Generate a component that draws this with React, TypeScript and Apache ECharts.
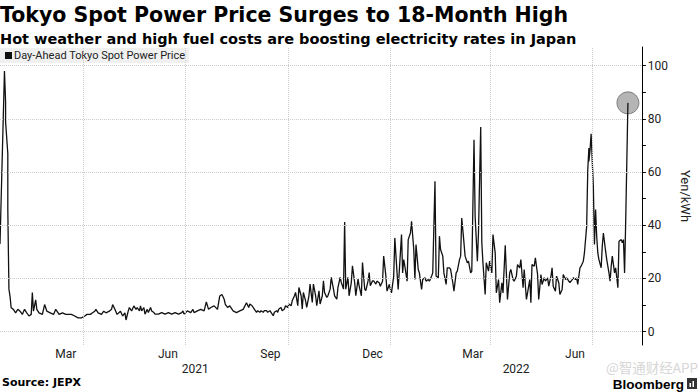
import React, { useEffect, useRef } from 'react';
import * as echarts from 'echarts';

// ---- data (day offset from 2021-01-16, Yen/kWh) ----
const START = Date.UTC(2021, 0, 16);
const DAY = 86400000;
const END_DAY = 575.5;

const seriesName = 'Day-Ahead Tokyo Spot Power Price';

const winter2021: [number, number][] = [
  [0, 33], [4, 98], [5, 86.5], [5, 79], [7, 67], [7, 46], [8, 16], [9, 13.3], [10, 9], [12, 8.4],
  [14, 7.1], [16, 8.4], [18, 7.7], [20, 6.5], [22, 8.4], [24, 7.1], [26, 5.9], [28, 6.5], [29, 14.7],
  [30, 7.7], [32, 12], [33, 8.4], [35, 7.1], [38, 6.5], [40, 10.2], [42, 7.7], [45, 7.1], [48, 6.5],
  [50, 8.4], [53, 6.5], [56, 7.1], [59, 6.5], [62, 6.5], [64, 6.5], [67, 5.9], [70, 5.2], [73, 5.2],
  [76, 5.9], [78, 6.5], [81, 6.5], [83, 7.1], [85, 7.7], [86, 8.4], [88, 7.1], [91, 6.5], [93, 7.7],
  [95, 7.1], [98, 7.7], [100, 8.4], [101, 10.2], [103, 8.4], [105, 6.5], [108, 7.7], [110, 5.9],
  [112, 7.1], [113, 4.4],
];

const summer2021: [number, number][] = [
  [115, 7.8], [116, 9.1], [118, 7.8], [120, 9.7], [122, 8.4], [123, 9.1], [125, 7.8], [126, 9.7],
  [127, 7.8], [129, 9.1], [130, 6.6], [132, 8.4], [133, 7.2], [135, 9.1], [136, 7.8], [138, 7.2],
  [139, 6.6], [142, 6.6], [145, 7.2], [148, 6.6], [151, 7.2], [154, 6.6], [157, 7.2], [160, 6.6],
  [163, 7.2], [164, 7.8], [165, 6.6], [168, 7.8], [171, 7.2], [173, 8.4], [174, 7.2], [177, 7.8],
  [180, 8.4], [183, 7.8], [185, 11.2], [187, 8.4], [189, 9.1], [192, 9.7], [195, 8.4], [197, 13.4],
  [199, 14], [201, 12.2], [202, 10.3], [204, 9.1], [206, 9.7], [209, 7.8], [212, 7.2], [215, 7.8],
  [218, 8.4], [221, 10.9], [223, 9.1], [224, 10.4], [226, 9.75], [227, 9.1], [228, 8.5], [230, 7.3],
  [231, 7.9], [233, 7.3], [234, 7.9], [236, 7.3], [237, 7.9], [239, 7.9], [240, 7.3], [242, 7.9],
  [243, 7.3], [245, 6.0], [246, 7.3], [248, 7.9], [249, 7.3], [250, 8.5], [252, 9.1], [253, 7.9],
  [255, 8.5], [256, 9.75],
];

const autumn2021: [number, number][] = [
  [258, 9.1], [259, 10.4], [261, 9.75], [262, 11.6], [264, 13.5], [265, 14.75], [267, 9.75],
  [268, 16.6], [270, 13.5], [271, 8.5], [272, 14.75], [274, 11.6], [275, 9.1], [277, 13.5],
  [278, 17.9], [280, 11], [281, 17.9], [283, 13.5], [284, 9.75], [286, 15.4], [287, 10.4],
  [289, 13.5], [290, 19.1], [291, 14.75], [293, 12.9], [294, 13.5], [296, 16], [297, 20.4],
  [299, 16], [300, 13.5], [302, 12.25], [303, 16.6], [305, 20.4], [306, 18.5], [308, 16],
  [309, 41.25], [310, 16], [312, 20.4], [313, 13.5], [315, 18.5], [316, 24.75], [318, 18.5],
  [319, 13.5], [321, 19.75], [322, 17.25], [324, 13.5], [325, 26], [327, 16], [328, 15.4],
  [330, 19.1], [331, 22.25], [332, 17.25], [334, 19.1], [335, 19.1], [337, 17.9], [338, 19],
  [340, 18.4], [341, 17.1], [343, 19], [344, 28.4], [346, 20.9], [347, 15.25], [349, 17.75],
];

const winter2022: [number, number][] = [
  [350, 15.9], [351, 14.6], [353, 20.9], [354, 35.25], [356, 22.1], [357, 15.9], [359, 29.6],
  [360, 36.5], [361, 22.1], [362, 27.1], [363, 24.6], [365, 19], [366, 34.6], [368, 37.1],
  [369, 41.5], [371, 30.9], [372, 19.6], [373, 32.75], [375, 23.4], [376, 22.1], [378, 15.9],
  [379, 19.6], [381, 20.25], [382, 19], [384, 19.6], [385, 19], [387, 20.9], [388, 22.1],
  [390, 56.5], [391, 20.9], [393, 20.25], [394, 35.9], [395, 30.9], [397, 28.4], [398, 22.1],
  [400, 17.75], [401, 24], [403, 24], [404, 23.4], [406, 18.4], [407, 15.25], [409, 22.1],
  [410, 22.75], [412, 27.1], [413, 28.4], [414, 42.75], [416, 33.4], [417, 28.4], [419, 25.9],
  [420, 26.5], [422, 22.1], [423, 22.75], [425, 72.1], [426, 43.4], [428, 26.5], [429, 37.1],
  [431, 76.9], [432, 33.4], [433, 25.9], [435, 14], [436, 25.9], [438, 22.75],
];

const spring2022: [number, number][] = [
  [439, 26.5], [441, 22.1], [442, 36.5], [444, 29.6], [445, 14.6], [447, 19.6], [448, 10.9],
  [450, 18.4], [451, 14.6], [453, 32.5], [454, 22.1], [455, 12.1], [457, 22.1], [458, 23.4],
  [460, 19.6], [461, 19], [463, 20.9], [464, 25.25], [466, 24], [467, 27.1], [469, 16.5],
  [470, 23.4], [472, 12.1], [473, 14.6], [475, 19.6], [476, 10.9], [477, 25.25], [479, 24.6],
  [480, 27.75], [482, 21.5], [483, 12.1], [485, 21.5], [486, 17.75], [488, 20.25], [489, 19],
  [491, 20.25], [492, 17.1], [494, 20.9], [495, 24], [496, 17.1], [498, 15.25], [499, 20.9],
  [501, 18.4], [502, 14], [504, 15.9], [505, 21.5], [507, 19.6], [508, 20.25], [510, 19],
  [511, 18.4], [513, 19.6], [514, 20.25], [516, 19.6], [517, 20.25], [518, 17.75],
];

const summer2022: [number, number][] = [
  [520, 24], [521, 24.6], [523, 26.5], [524, 29.6], [526, 39.6], [527, 60.9], [528, 69], [528, 64],
  [529, 68], [530, 74.4], [532, 54.6], [533, 32.75], [534, 45.9], [535, 35.9], [536, 29.6],
  [537, 27.1], [539, 24], [540, 32.1], [541, 37.1], [543, 30.25], [544, 27.1], [546, 22.1],
  [547, 19], [548, 24.6], [549, 28.4], [551, 22.1], [552, 24], [554, 16.5], [555, 34], [557, 34.6],
  [558, 33.4], [559, 34.6], [560, 22.1], [561, 41.5], [563, 86],
];

// ---- axis labels ----
const monthLabelDates = [
  '2021-03-16T00:00:00Z', '2021-06-15T12:00:00Z', '2021-09-15T12:00:00Z',
  '2021-12-16T00:00:00Z', '2022-03-16T00:00:00Z', '2022-06-15T12:00:00Z',
];
const monthLabels = ['Mar', 'Jun', 'Sep', 'Dec', 'Mar', 'Jun'];
const quarterStarts = [
  '2021-04-01T00:00:00Z', '2021-07-01T00:00:00Z', '2021-10-01T00:00:00Z',
  '2022-01-01T00:00:00Z', '2022-04-01T00:00:00Z', '2022-07-01T00:00:00Z',
];
const yearLabels = ['2021', '2022'];
const yearBreak = '2022-01-01T00:00:00Z';
const yTickValues = [0, 10, 20, 30, 40, 50, 60, 70, 80, 90, 100];
const yLabelValues = [0, 20, 40, 60, 80, 100];

const FONT = "Roboto, 'Noto Sans', sans-serif";
const BOLD_FONT = "'DejaVu Sans', sans-serif";

export default function App() {
  const ref = useRef<HTMLDivElement>(null);

  useEffect(() => {
    document.body.style.margin = '0';
    if (!ref.current) return;
    const chart = echarts.init(ref.current, null, { renderer: 'svg' });

    const all = [...winter2021, ...summer2021, ...autumn2021, ...winter2022, ...spring2022, ...summer2022];
    const data = all.map(([d, v]) => [START + d * DAY, v]);
    const last = data[data.length - 1];
    const xMin = START;
    const xMax = START + END_DAY * DAY;
    const monthTs = monthLabelDates.map((s) => Date.parse(s));
    const breakTs = Date.parse(yearBreak);
    const yearTs = [(xMin + breakTs) / 2, (breakTs + xMax) / 2];

    const option: any = {
      animation: false,
      textStyle: { fontFamily: FONT },
      title: [
        {
          text: 'Tokyo Spot Power Price Surges to 18-Month High',
          left: 0, top: 4, padding: 0,
          textStyle: { fontFamily: BOLD_FONT, fontWeight: 'bold', fontSize: 20.5, color: '#000' },
        },
        {
          text: 'Hot weather and high fuel costs are boosting electricity rates in Japan',
          left: 0, top: 31, padding: 0,
          textStyle: { fontFamily: BOLD_FONT, fontWeight: 'bold', fontSize: 14.5, color: '#000' },
        },
        {
          text: 'Source: JEPX',
          left: 2, top: 377, padding: 0,
          textStyle: { fontFamily: BOLD_FONT, fontWeight: 'bold', fontSize: 11, color: '#000' },
        },
      ],
      legend: {
        data: [seriesName],
        left: 0, top: 48,
        padding: [2, 4, 2, 5],
        backgroundColor: '#f0f0f0',
        icon: 'rect',
        itemWidth: 7, itemHeight: 7, itemGap: 4,
        textStyle: { fontFamily: FONT, fontSize: 11, color: '#222', padding: [0, 0, 0, -3] },
      },
      grid: { left: 0, right: 45, top: 47, bottom: 47 },
      xAxis: [
        {
          type: 'value', min: xMin, max: xMax,
          axisLine: { show: false }, axisTick: { show: false }, splitLine: { show: false },
          axisLabel: {
            customValues: monthTs,
            formatter: (v: number) => {
              const i = monthTs.findIndex((t) => Math.abs(t - v) < DAY);
              return i >= 0 ? monthLabels[i] : '';
            },
            margin: 3, color: '#222', fontSize: 12, fontFamily: FONT,
          },
        },
        {
          type: 'value', min: xMin, max: xMax, position: 'bottom', offset: 15,
          axisLine: { show: false }, axisTick: { show: false }, splitLine: { show: false },
          axisLabel: {
            customValues: yearTs,
            formatter: (v: number) => {
              const i = yearTs.findIndex((t) => Math.abs(t - v) < DAY);
              return i >= 0 ? yearLabels[i] : '';
            },
            margin: 3, color: '#222', fontSize: 12, fontFamily: FONT,
          },
        },
      ],
      yAxis: {
        type: 'value', position: 'right', min: -5, max: 107,
        name: 'Yen/kWh', nameLocation: 'middle', nameRotate: -90, nameGap: 31,
        nameTextStyle: { fontFamily: FONT, fontSize: 13, color: '#222' },
        axisLine: { show: true, lineStyle: { color: '#000', width: 1 } },
        axisTick: { show: true, customValues: yTickValues, length: 4, lineStyle: { color: '#000' } },
        axisLabel: { customValues: yLabelValues, margin: 6, color: '#222', fontSize: 12, fontFamily: FONT },
        splitLine: { show: false },
      },
      series: [
        {
          type: 'scatter', data: [last], symbolSize: 22, silent: true, z: 1,
          itemStyle: { color: '#a3a3a3', borderColor: '#6a6a6a', borderWidth: 1 },
        },
        {
          type: 'line', name: seriesName, data, showSymbol: false, symbol: 'none', z: 2,
          lineStyle: { color: '#111', width: 1.3 },
          itemStyle: { color: '#111' },
          markLine: {
            silent: true, symbol: ['none', 'none'], label: { show: false },
            lineStyle: { color: '#cccccc', type: 'dotted', width: 1 },
            emphasis: { disabled: true },
            data: [
              ...yLabelValues.map((v) => ({ yAxis: v })),
              ...quarterStarts.map((s) => ({ xAxis: Date.parse(s) })),
            ],
          },
        },
      ],
      graphic: [
        {
          type: 'text', right: 2, top: 360, silent: true,
          style: { text: '@智通财经APP', fill: '#d6d6d6', font: "13.5px 'Noto Sans CJK SC', sans-serif" },
        },
        {
          type: 'text', right: 16, top: 377,
          style: { text: 'Bloomberg', fill: '#000', font: "bold 13.5px 'Liberation Sans', sans-serif" },
        },
        { type: 'rect', right: 3, top: 378, shape: { width: 10, height: 11 }, style: { fill: '#333' } },
        { type: 'rect', right: 9, top: 383, shape: { width: 1.5, height: 4 }, style: { fill: '#fff' } },
        { type: 'rect', right: 6, top: 381, shape: { width: 1.5, height: 6 }, style: { fill: '#fff' } },
      ],
    };

    chart.setOption(option);
    return () => chart.dispose();
  }, []);

  return <div ref={ref} style={{ width: 700, height: 392 }} />;
}
